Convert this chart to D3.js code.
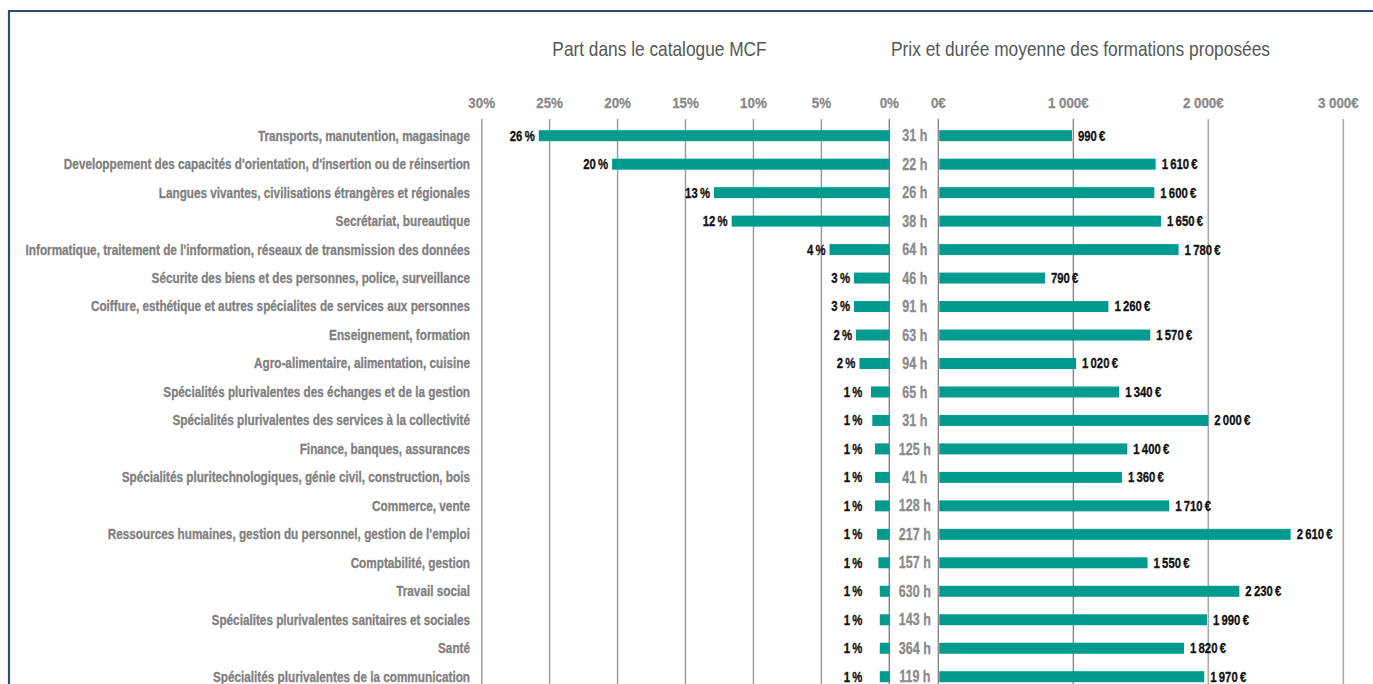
<!DOCTYPE html>
<html><head><meta charset="utf-8">
<script src="https://cdn.jsdelivr.net/npm/d3@7"></script>
<style>
html,body{margin:0;padding:0;background:#fff;overflow:hidden}
svg{display:block}
text{font-family:"Liberation Sans",Arial,sans-serif}
</style></head>
<body>
<svg id="chart" width="1373" height="684"></svg>
<script>
const categories = [
  "Transports, manutention, magasinage",
  "Developpement des capacités d'orientation, d'insertion ou de réinsertion",
  "Langues vivantes, civilisations étrangères et régionales",
  "Secrétariat, bureautique",
  "Informatique, traitement de l'information, réseaux de transmission des données",
  "Sécurite des biens et des personnes, police, surveillance",
  "Coiffure, esthétique et autres spécialites de services aux personnes",
  "Enseignement, formation",
  "Agro-alimentaire, alimentation, cuisine",
  "Spécialités plurivalentes des échanges et de la gestion",
  "Spécialités plurivalentes des services à la collectivité",
  "Finance, banques, assurances",
  "Spécialités pluritechnologiques, génie civil, construction, bois",
  "Commerce, vente",
  "Ressources humaines, gestion du personnel, gestion de l'emploi",
  "Comptabilité, gestion",
  "Travail social",
  "Spécialites plurivalentes sanitaires et sociales",
  "Santé",
  "Spécialités plurivalentes de la communication"
];
const shares = [25.8, 20.4, 12.9, 11.6, 4.4, 2.6, 2.6, 2.45, 2.2, 1.35, 1.25, 1.05, 1.05, 1.05, 0.9, 0.8, 0.7, 0.7, 0.7, 0.7];
const hours = [31, 22, 26, 38, 64, 46, 91, 63, 94, 65, 31, 125, 41, 128, 217, 157, 630, 143, 364, 119];
const prices = [990, 1610, 1600, 1650, 1780, 790, 1260, 1570, 1020, 1340, 2000, 1400, 1360, 1710, 2610, 1550, 2230, 1990, 1820, 1970];
const shareTicks = [30, 25, 20, 15, 10, 5, 0];
const priceTicks = [0, 1000, 2000, 3000];
const titleLeft = "Part dans le catalogue MCF";
const titleRight = "Prix et durée moyenne des formations proposées";

const NB = "\u202F";
const fmtPrice = v => d3.format(",")(v).replace(/,/g, NB) + NB + "€";
const fmtTick = v => d3.format(",")(v).replace(/,/g, "\u00A0") + "€";
const fmtPct = v => Math.round(v) + NB + "%";

const svg = d3.select("#chart");
const teal = "#009a8e";

const xL = d3.scaleLinear().domain([0, 30]).range([889.3, 481.7]);
const xR = d3.scaleLinear().domain([0, 3000]).range([938.3, 1343.3]);
const y = d3.scalePoint().domain(categories).range([135.7, 676.7]);
const barH = 11;
const gridTop = 119, gridBottom = 684;

// condensed look: horizontal scale around the anchor point
const place = (sel, fx, fy, sx) =>
  sel.attr("transform", (d, i) => `translate(${fx(d, i)},${fy(d, i)}) scale(${sx},1)`);
const heavy = (sel, col) => sel.attr("fill", col).attr("stroke", col).attr("stroke-width", 0.3);

// frame
svg.append("path").attr("d", `M9,684 V11 H1373`).attr("fill", "none")
  .attr("stroke", "#2d4b73").attr("stroke-width", 2.2);

// titles
place(svg.append("text").attr("text-anchor", "middle")
  .attr("font-size", 20).attr("fill", "#575757").text(titleLeft), () => 659.5, () => 56, 0.865);
place(svg.append("text").attr("text-anchor", "middle")
  .attr("font-size", 20).attr("fill", "#575757").text(titleRight), () => 1080.5, () => 56, 0.868);

// left gridlines
svg.append("g").selectAll("line").data(shareTicks).join("line")
  .attr("x1", d => xL(d)).attr("x2", d => xL(d))
  .attr("y1", gridTop).attr("y2", gridBottom)
  .attr("stroke", d => d === 0 ? "#777" : "#999").attr("stroke-width", d => d === 0 ? 1.3 : 1.4);
place(heavy(svg.append("g").selectAll("text").data(shareTicks).join("text")
  .attr("text-anchor", "middle")
  .attr("font-size", 14.5).attr("font-weight", "bold"), "#8a8a8a")
  .text(d => d + "%"), d => xL(d), () => 108, 0.92);

// right gridlines
svg.append("g").selectAll("line").data(priceTicks).join("line")
  .attr("x1", d => xR(d)).attr("x2", d => xR(d))
  .attr("y1", gridTop).attr("y2", gridBottom)
  .attr("stroke", d => d <= 1000 ? "#777" : "#aaa").attr("stroke-width", d => d <= 1000 ? 1.2 : 1.6);
place(heavy(svg.append("g").selectAll("text").data(priceTicks).join("text")
  .attr("text-anchor", "middle")
  .attr("font-size", 14.5).attr("font-weight", "bold"), "#8a8a8a")
  .text(d => fmtTick(d)), d => xR(d) - (d > 0 ? 5 : 0), () => 108, 0.92);

const rows = categories.map((c, i) => ({ c, s: shares[i], h: hours[i], p: prices[i] }));

// category labels
place(heavy(svg.append("g").selectAll("text").data(rows).join("text")
  .attr("dy", "0.35em")
  .attr("text-anchor", "end").attr("font-size", 14).attr("font-weight", "bold"), "#7f7f7f")
  .text(d => d.c), () => 470, d => y(d.c), 0.84);

// left bars
svg.append("g").selectAll("rect").data(rows).join("rect")
  .attr("x", d => xL(d.s)).attr("width", d => xL(0) - xL(d.s))
  .attr("y", d => y(d.c) - barH / 2).attr("height", barH).attr("fill", teal);
place(heavy(svg.append("g").selectAll("text").data(rows).join("text")
  .attr("dy", "0.35em")
  .attr("text-anchor", "end").attr("font-size", 14).attr("font-weight", "bold"), "#111")
  .text(d => fmtPct(d.s)),
  d => Math.min(xL(d.s) - 4, xL(0) - 27), d => y(d.c), 0.81);

// hours
place(heavy(svg.append("g").selectAll("text").data(rows).join("text")
  .attr("dy", "0.35em")
  .attr("text-anchor", "middle").attr("font-size", 16).attr("font-weight", "bold"), "#8a8a8a")
  .text(d => d.h + " h"),
  () => (xL(0) + xR(0)) / 2 + 1, d => y(d.c), 0.78);

// right bars
svg.append("g").selectAll("rect").data(rows).join("rect")
  .attr("x", xR(0) + 1).attr("width", d => xR(d.p) - xR(0) - 1)
  .attr("y", d => y(d.c) - barH / 2).attr("height", barH).attr("fill", teal);
place(heavy(svg.append("g").selectAll("text").data(rows).join("text")
  .attr("dy", "0.35em")
  .attr("font-size", 14).attr("font-weight", "bold"), "#111")
  .text(d => fmtPrice(d.p)),
  d => xR(d.p) + 6, d => y(d.c), 0.81);
</script>
</body></html>
